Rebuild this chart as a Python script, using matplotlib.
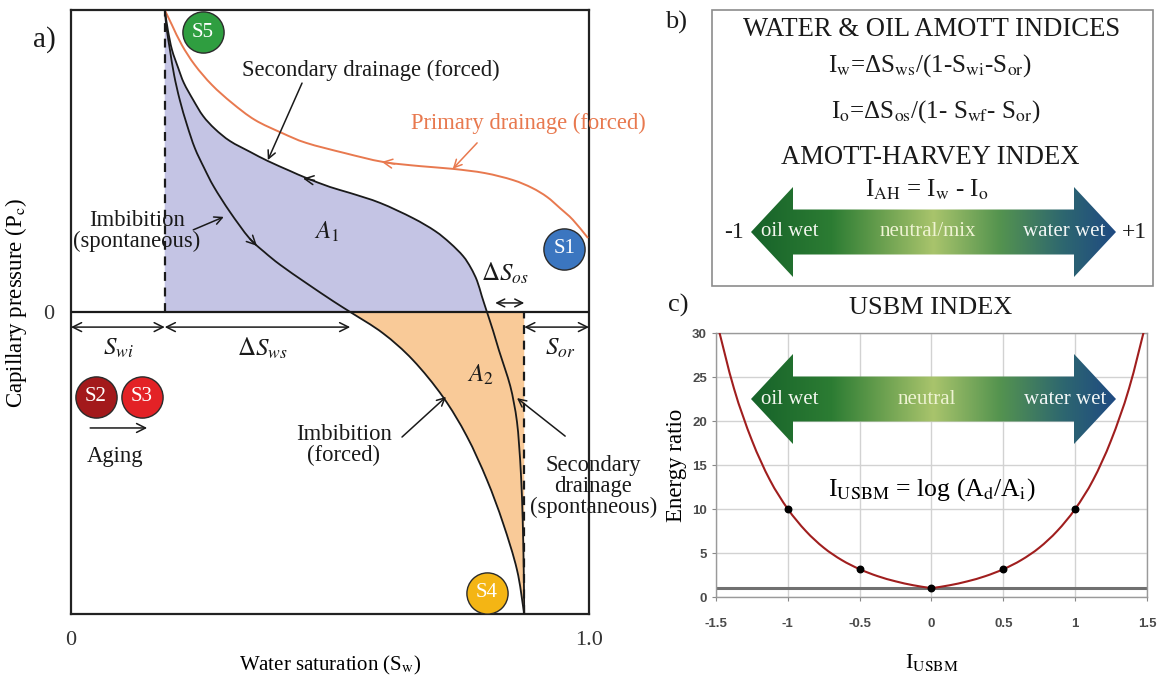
import numpy as np
import matplotlib
matplotlib.use('Agg')
import matplotlib.pyplot as plt
from matplotlib.patches import Polygon, Rectangle, PathPatch
from matplotlib.path import Path
from matplotlib.colors import LinearSegmentedColormap

plt.rcParams['font.family'] = ['Liberation Serif', 'DejaVu Serif']
plt.rcParams['mathtext.fontset'] = 'stix'

# ---------------- Panel a data (normalised Sw, normalised Pc) ----------------
swi = 0.181
sor_sw = 0.875
imb_zero_sw = 0.539
dsos_left = 0.819

primary_sw = [0.181, 0.195, 0.214, 0.239, 0.272, 0.311, 0.355, 0.407, 0.454, 0.529,
              0.602, 0.674, 0.737, 0.799, 0.853, 0.890, 0.919, 0.944, 0.969, 0.998]
primary_pc = [1.0, 0.950, 0.884, 0.818, 0.752, 0.692, 0.636, 0.593, 0.560, 0.526,
              0.497, 0.483, 0.474, 0.460, 0.437, 0.411, 0.381, 0.344, 0.305, 0.245]

sec_sw = [0.181, 0.187, 0.195, 0.207, 0.218, 0.236, 0.255, 0.278, 0.307, 0.346, 0.380,
          0.423, 0.454, 0.500, 0.539, 0.597, 0.660, 0.703, 0.732, 0.757, 0.772, 0.784,
          0.793, 0.803, 0.815, 0.826, 0.838, 0.848, 0.855, 0.861, 0.865, 0.869, 0.872,
          0.874, 0.875]
sec_pc = [1.0, 0.934, 0.868, 0.808, 0.758, 0.702, 0.649, 0.606, 0.566, 0.530, 0.500,
          0.467, 0.444, 0.414, 0.394, 0.361, 0.311, 0.268, 0.228, 0.185, 0.146, 0.103,
          0.053, 0.0, -0.063, -0.126, -0.189, -0.245, -0.301, -0.364, -0.440, -0.550, -0.689,
          -0.854, -1.0]

imb_sw = [0.181, 0.185, 0.191, 0.199, 0.210, 0.224, 0.239, 0.257, 0.276, 0.307, 0.344,
          0.373, 0.404, 0.454, 0.506, 0.539, 0.602, 0.660, 0.718, 0.764, 0.803, 0.834,
          0.861, 0.875]
imb_pc = [1.0, 0.934, 0.868, 0.785, 0.702, 0.619, 0.543, 0.477, 0.414, 0.331, 0.245,
          0.199, 0.156, 0.096, 0.036, 0.0, -0.070, -0.159, -0.281, -0.411, -0.556, -0.699,
          -0.854, -1.0]

a_xticks = [0, 1.0]
a_xticklabels = ['0', '1.0']

# ---------------- Panel c data ----------------
iusbm_left = [-1.5, -1.375, -1.25, -1.125, -1.0, -0.875, -0.75, -0.625, -0.5, -0.375, -0.25, -0.125, 0.0]
energy_left = [31.6, 23.7, 17.8, 13.3, 10.0, 7.5, 5.6, 4.2, 3.16, 2.37, 1.78, 1.33, 1.0]
iusbm_right = [0.0, 0.125, 0.25, 0.375, 0.5, 0.625, 0.75, 0.875, 1.0, 1.125, 1.25, 1.375, 1.5]
energy_right = [1.0, 1.33, 1.78, 2.37, 3.16, 4.2, 5.6, 7.5, 10.0, 13.3, 17.8, 23.7, 31.6]
iusbm_pts = [-1.0, -0.5, 0.0, 0.5, 1.0]
energy_pts = [10.0, 3.16, 1.0, 3.16, 10.0]
c_xticks = [-1.5, -1.0, -0.5, 0.0, 0.5, 1.0, 1.5]
c_xticklabels = ['-1.5', '-1', '-0.5', '0', '0.5', '1', '1.5']
c_yticks = [0, 5, 10, 15, 20, 25, 30]

W, H = 1159, 675
fig = plt.figure(figsize=(W / 100, H / 100), dpi=100)
fig.patch.set_facecolor('white')


def bezier_segs(xs, ys):
    """Smooth (Catmull-Rom) cubic segments passing through every given point."""
    P = np.column_stack([xs, ys]).astype(float)
    n = len(P)
    T = np.zeros_like(P)
    T[0] = P[1] - P[0]
    T[-1] = P[-1] - P[-2]
    T[1:-1] = (P[2:] - P[:-2]) / 2.0
    segs = []
    for i in range(n - 1):
        segs.append((P[i] + T[i] / 3.0, P[i + 1] - T[i + 1] / 3.0, P[i + 1]))
    return P, segs


def seg_path(P, segs, i0, i1, extra=None):
    verts = [tuple(P[i0])]
    codes = [Path.MOVETO]
    for c1, c2, p3 in segs[i0:i1]:
        verts += [tuple(c1), tuple(c2), tuple(p3)]
        codes += [Path.CURVE4] * 3
    if extra is not None:
        for v in extra:
            verts.append(v)
            codes.append(Path.LINETO)
        verts.append(verts[0])
        codes.append(Path.CLOSEPOLY)
    return Path(verts, codes)


# ======================= Panel a =======================
ax = fig.add_axes([71 / W, 1 - 614 / H, (589 - 71) / W, (614 - 10) / H])
ax.set_xlim(0, 1)
ax.set_ylim(-1, 1)
for s in ax.spines.values():
    s.set_color('#222222')
    s.set_linewidth(1.6)

Pp, segp = bezier_segs(primary_sw, primary_pc)
Ps, segs_s = bezier_segs(sec_sw, sec_pc)
Pi, segs_i = bezier_segs(imb_sw, imb_pc)
iz_s = int(np.argmin(np.abs(np.array(sec_pc))))
iz_i = int(np.argmin(np.abs(np.array(imb_pc))))

ax.add_patch(PathPatch(seg_path(Ps, segs_s, 0, iz_s, extra=[(swi, 0.0)]),
                       facecolor='#c4c4e4', edgecolor='none', zorder=1))
ax.add_patch(PathPatch(seg_path(Pi, segs_i, iz_i, len(segs_i), extra=[(sor_sw, 0.0)]),
                       facecolor='#f9ca98', edgecolor='none', zorder=1))

ax.add_patch(PathPatch(seg_path(Pp, segp, 0, len(segp)), facecolor='none',
                       edgecolor='#e8794f', lw=1.4, zorder=3))
ax.add_patch(PathPatch(seg_path(Ps, segs_s, 0, len(segs_s)), facecolor='none',
                       edgecolor='#1a1a1a', lw=1.3, zorder=3))
ax.add_patch(PathPatch(seg_path(Pi, segs_i, 0, len(segs_i)), facecolor='none',
                       edgecolor='#1a1a1a', lw=1.3, zorder=3))

ax.axhline(0, color='#1a1a1a', lw=1.6, zorder=4)
ax.plot([swi, swi], [0, 1], color='#1a1a1a', lw=1.6, ls=(0, (4, 3)), zorder=4)
ax.plot([sor_sw, sor_sw], [-1, 0], color='#1a1a1a', lw=1.6, ls=(0, (4, 3)), zorder=4)

ax.set_xticks(a_xticks)
ax.set_xticklabels(a_xticklabels, fontsize=16, color='#333333')
ax.set_yticks([0])
ax.set_yticklabels(['0'], fontsize=16, color='#333333')
ax.tick_params(length=0, pad=12)
ax.set_xlabel('Water saturation (S$_\\mathrm{w}$)', fontsize=15)
ax.xaxis.set_label_coords(0.5, -0.066)
ax.set_ylabel('Capillary pressure (P$_\\mathrm{c}$)', fontsize=16.5)
ax.yaxis.set_label_coords(-0.082, 0.515)


def arr(x0, y0, x1, y1, color='#1a1a1a', style='->', ms=14, lw=1.1):
    ax.annotate('', xy=(x1, y1), xytext=(x0, y0),
                arrowprops=dict(arrowstyle=style, color=color, lw=lw, shrinkA=0, shrinkB=0,
                                mutation_scale=ms), zorder=6, annotation_clip=False)


# measurement arrows
yarr = -0.05
arr(0.0, yarr, swi, yarr, style='<->', ms=16)
arr(swi, yarr, imb_zero_sw, yarr, style='<->', ms=16)
arr(sor_sw, yarr, 1.0, yarr, style='<->', ms=16)
arr(dsos_left, 0.03, sor_sw, 0.03, style='<->', ms=14)

# direction chevrons on curves
arr(0.625, 0.490, 0.600, 0.497, color='#e8794f', ms=16)
arr(0.470, 0.436, 0.448, 0.442, ms=16)
arr(0.3456, 0.242, 0.359, 0.219, ms=16)

# label arrows
arr(0.446, 0.758, 0.380, 0.503)
arr(0.784, 0.560, 0.737, 0.474, color='#e8794f')
arr(0.236, 0.272, 0.295, 0.315)
arr(0.639, -0.414, 0.724, -0.281)
arr(0.954, -0.411, 0.861, -0.285)
arr(0.037, -0.384, 0.147, -0.384, ms=16)

tk = dict(fontsize=16.3, ha='center', va='center', zorder=7)
ax.text(0.579, 0.801, 'Secondary drainage (forced)', color='#1a1a1a', **tk)
ax.text(0.882, 0.626, 'Primary drainage (forced)', color='#e8794f', clip_on=False, **tk)
ax.text(0.127, 0.268, 'Imbibition\n(spontaneous)', color='#1a1a1a', linespacing=1.0, **tk)
ax.text(0.527, -0.440, 'Imbibition\n(forced)', color='#1a1a1a', linespacing=1.0, **tk)
ax.text(1.008, -0.579, 'Secondary\ndrainage\n(spontaneous)', color='#1a1a1a', linespacing=1.0,
        clip_on=False, **tk)
ax.text(0.085, -0.480, 'Aging', color='#1a1a1a', **tk)

mk = dict(fontsize=18, ha='center', va='center', zorder=7, color='#1a1a1a')
ax.text(0.091, -0.119, '$S_{wi}$', **mk)
ax.text(0.369, -0.119, '$\\Delta S_{ws}$', **mk)
ax.text(0.944, -0.119, '$S_{or}$', **mk)
ax.text(0.494, 0.265, '$A_1$', **mk)
ax.text(0.790, -0.209, '$A_2$', **mk)
ax.text(0.838, 0.129, '$\\Delta S_{os}$', **mk)

circles = [('S5', 0.255, 0.927, '#2f9e40'), ('S1', 0.952, 0.209, '#3b76c0'),
           ('S4', 0.803, -0.930, '#f4b514'), ('S2', 0.048, -0.281, '#a3191b'),
           ('S3', 0.137, -0.281, '#e32226')]
for lab, cx, cy, col in circles:
    ax.scatter([cx], [cy], s=880, color=col, edgecolors='#2a2a2a', linewidths=1.0, zorder=8,
               clip_on=False)
    ax.text(cx, cy, lab, color='white', fontsize=15, ha='center', va='center', zorder=9)

# ======================= Panel c =======================
axc = fig.add_axes([716 / W, 1 - 597 / H, (1147 - 716) / W, (597 - 333) / H])
axc.set_xlim(-1.5, 1.5)
axc.set_ylim(0, 30)
axc.set_xticks(c_xticks)
axc.set_xticklabels(c_xticklabels)
axc.set_yticks(c_yticks)
axc.grid(True, color='#d2d2d2', lw=1.0)
axc.set_axisbelow(True)
for s in axc.spines.values():
    s.set_color('#9a9a9a')
    s.set_linewidth(1.0)
axc.tick_params(axis='both', labelsize=9.5, labelcolor='#4a4a4a', color='#888888', length=3)
axc.tick_params(axis='x', pad=12)
for t in axc.get_xticklabels() + axc.get_yticklabels():
    t.set_family(['Liberation Sans', 'DejaVu Sans'])
    t.set_fontweight('bold')
axc.axhline(1, color='#707070', lw=2.2, zorder=2)
for xs_, ys_ in ((iusbm_left, energy_left), (iusbm_right, energy_right)):
    Pc_, sc_ = bezier_segs(xs_, ys_)
    axc.add_patch(PathPatch(seg_path(Pc_, sc_, 0, len(sc_)), facecolor='none',
                            edgecolor='#a01e1e', lw=1.5, zorder=3))
axc.scatter(iusbm_pts, energy_pts, s=22, color='black', zorder=4)
axc.set_ylabel('Energy ratio', fontsize=16.5, labelpad=4)
axc.set_xlabel('I$_\\mathrm{USBM}$', fontsize=16, labelpad=16)
axc.text(0.0, 12.2, 'I$_\\mathrm{USBM}$ = log (A$_\\mathrm{d}$/A$_\\mathrm{i}$)', fontsize=18.5,
         ha='center', va='center', zorder=6)

# ======================= Overlay (panel b, arrows, panel letters) =======================
ov = fig.add_axes([0, 0, 1, 1], zorder=10)
ov.patch.set_alpha(0)
ov.axis('off')

cmap = LinearSegmentedColormap.from_list(
    'wet', [(0.0, '#17632a'), (0.22, '#2c7c33'), (0.5, '#a9c46c'), (0.68, '#55944f'),
            (0.86, '#2d6670'), (1.0, '#1f4a82')])


def grad_arrow(yc, x0=751, x1=1116, hb=42, hh=45, sh=22.5):
    verts = [(x0, yc), (x0 + hb, yc - hh), (x0 + hb, yc - sh), (x1 - hb, yc - sh), (x1 - hb, yc - hh),
             (x1, yc), (x1 - hb, yc + hh), (x1 - hb, yc + sh), (x0 + hb, yc + sh), (x0 + hb, yc + hh)]
    poly = Polygon(verts, closed=True, facecolor='none', edgecolor='none')
    ov.add_patch(poly)
    grad = np.linspace(0, 1, 512).reshape(1, -1)
    im = ov.imshow(grad, cmap=cmap, extent=(x0, x1, yc + hh, yc - hh), aspect='auto',
                   interpolation='bilinear', zorder=1)
    im.set_clip_path(poly)


ov.add_patch(Rectangle((712, 10), 441, 276, fill=False, edgecolor='#8c8c8c', lw=1.2))
grad_arrow(232)
grad_arrow(399)

tb = dict(ha='center', va='center', color='#1a1a1a')
ov.text(44, 40, 'a)', fontsize=21, **tb)
ov.text(676, 22, 'b)', fontsize=19, **tb)
ov.text(678, 305, 'c)', fontsize=19, **tb)
ov.text(932, 30, 'WATER & OIL AMOTT INDICES', fontsize=19.2, **tb)
ov.text(930, 66, 'I$_\\mathrm{w}$=ΔS$_\\mathrm{ws}$/(1-S$_\\mathrm{wi}$-S$_\\mathrm{or}$)', fontsize=18, **tb)
ov.text(936, 112, 'I$_\\mathrm{o}$=ΔS$_\\mathrm{os}$/(1- S$_\\mathrm{wf}$- S$_\\mathrm{or}$)', fontsize=18, **tb)
ov.text(930, 157, 'AMOTT-HARVEY INDEX', fontsize=19.2, **tb)
ov.text(927, 190, 'I$_\\mathrm{AH}$ = I$_\\mathrm{w}$ - I$_\\mathrm{o}$', fontsize=18, **tb)
ov.text(734, 232, '-1', fontsize=17, **tb)
ov.text(1134, 232, '+1', fontsize=17, **tb)
ov.text(931, 308, 'USBM INDEX', fontsize=19, **tb)

tw = dict(ha='center', va='center', fontsize=15, zorder=5)
ov.text(790, 232, 'oil wet', color='#f2f6ee', **tw)
ov.text(928, 232, 'neutral/mix', color='#eef3d2', **tw)
ov.text(1064, 232, 'water wet', color='#f2f6f6', **tw)
ov.text(790, 399, 'oil wet', color='#f2f6ee', **tw)
ov.text(927, 399, 'neutral', color='#eef3d2', **tw)
ov.text(1065, 399, 'water wet', color='#f2f6f6', **tw)

ov.set_xlim(0, W)
ov.set_ylim(H, 0)

fig.savefig('out.png', dpi=100, facecolor='white')
